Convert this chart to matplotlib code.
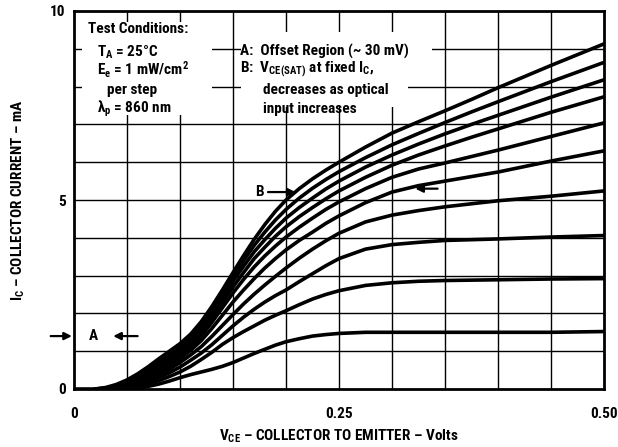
import matplotlib
matplotlib.use('Agg')
import matplotlib.pyplot as plt
from matplotlib import font_manager as fm
from matplotlib.patches import Rectangle

# ---------------- data ----------------
# V_CE sample points (V) shared by all curves
vce = [0.02, 0.03, 0.04, 0.05, 0.06, 0.07, 0.08, 0.09, 0.10, 0.11, 0.12, 0.13, 0.14, 0.15,
       0.16, 0.17, 0.18, 0.19, 0.20, 0.2125, 0.225, 0.2375, 0.25, 0.275, 0.30, 0.325,
       0.35, 0.375, 0.40, 0.45, 0.50]
# Collector current (mA), one curve per 1 mW/cm^2 step (c1 = highest input)
c1 = [0, 0.04, 0.12, 0.24, 0.40, 0.59, 0.80, 1.00, 1.20, 1.45, 1.78, 2.18, 2.62, 3.08, 3.53, 3.96,
      4.35, 4.70, 5.00, 5.30, 5.56, 5.79, 6.00, 6.40, 6.77, 7.07, 7.36, 7.66, 7.97, 8.56, 9.13]
c2 = [0, 0.03, 0.09, 0.19, 0.33, 0.51, 0.70, 0.90, 1.10, 1.35, 1.68, 2.08, 2.52, 2.97, 3.40, 3.80,
      4.15, 4.47, 4.75, 5.05, 5.31, 5.54, 5.75, 6.12, 6.46, 6.76, 7.05, 7.33, 7.60, 8.13, 8.64]
c3 = [0, 0.01, 0.06, 0.15, 0.28, 0.44, 0.63, 0.82, 1.02, 1.27, 1.58, 1.97, 2.40, 2.85, 3.25, 3.63,
      3.95, 4.25, 4.52, 4.80, 5.05, 5.29, 5.50, 5.87, 6.19, 6.48, 6.75, 7.00, 7.24, 7.72, 8.18]
c4 = [0, 0, 0.05, 0.13, 0.24, 0.39, 0.56, 0.75, 0.95, 1.19, 1.50, 1.87, 2.28, 2.70, 3.08, 3.45,
      3.75, 4.04, 4.29, 4.56, 4.80, 5.03, 5.24, 5.60, 5.92, 6.19, 6.43, 6.66, 6.88, 7.32, 7.73]
c5 = [0, 0, 0.04, 0.11, 0.20, 0.34, 0.50, 0.68, 0.88, 1.11, 1.40, 1.76, 2.15, 2.54, 2.90, 3.23,
      3.52, 3.78, 4.02, 4.28, 4.52, 4.75, 4.95, 5.30, 5.60, 5.82, 5.98, 6.15, 6.32, 6.68, 7.04]
c6 = [0, 0, 0.03, 0.09, 0.17, 0.29, 0.43, 0.60, 0.80, 1.02, 1.28, 1.60, 1.95, 2.30, 2.62, 2.92,
      3.20, 3.45, 3.68, 3.93, 4.15, 4.38, 4.58, 4.93, 5.21, 5.38, 5.50, 5.62, 5.74, 6.03, 6.30]
c7 = [0, 0, 0.02, 0.07, 0.14, 0.24, 0.37, 0.52, 0.70, 0.90, 1.12, 1.39, 1.68, 1.97, 2.25, 2.51,
      2.75, 2.98, 3.20, 3.46, 3.70, 3.92, 4.12, 4.42, 4.60, 4.72, 4.82, 4.90, 4.98, 5.10, 5.24]
c8 = [0, 0, 0, 0.04, 0.10, 0.19, 0.30, 0.43, 0.58, 0.76, 0.95, 1.17, 1.42, 1.67, 1.90, 2.11,
      2.30, 2.47, 2.62, 2.84, 3.05, 3.26, 3.45, 3.70, 3.82, 3.88, 3.93, 3.95, 3.97, 4.02, 4.06]
c9 = [0, 0, 0, 0.01, 0.07, 0.14, 0.22, 0.33, 0.45, 0.60, 0.78, 0.97, 1.18, 1.36, 1.52, 1.67,
      1.82, 1.95, 2.07, 2.23, 2.38, 2.50, 2.60, 2.74, 2.81, 2.85, 2.87, 2.88, 2.89, 2.91, 2.92]
c10 = [0, 0, 0, 0, 0.03, 0.07, 0.13, 0.21, 0.30, 0.38, 0.45, 0.52, 0.60, 0.70, 0.82, 0.94,
       1.05, 1.16, 1.25, 1.33, 1.40, 1.44, 1.47, 1.50, 1.50, 1.50, 1.50, 1.50, 1.50, 1.50, 1.52]

x_tick_vals = [0, 0.25, 0.50]
x_tick_labels = ['0', '0.25', '0.50']
y_tick_vals = [0, 5, 10]
y_tick_labels = ['0', '5', '10']
x_grid = [0.05 * k for k in range(1, 10)]
y_grid = list(range(1, 10))

# ---------------- fonts ----------------
names = {f.name for f in fm.fontManager.ttflist}
FONT = 'DejaVu Sans'
for cand in ['Liberation Sans Narrow', 'Roboto Condensed', 'Open Sans Condensed', 'DejaVu Sans Condensed']:
    if cand in names:
        FONT = cand
        break
plt.rcParams['font.family'] = [FONT, 'DejaVu Sans']
plt.rcParams['font.weight'] = 'bold'
plt.rcParams['mathtext.fontset'] = 'custom'
plt.rcParams['mathtext.rm'] = FONT + ':bold'
plt.rcParams['mathtext.it'] = FONT + ':bold'
plt.rcParams['mathtext.bf'] = FONT + ':bold'
plt.rcParams['mathtext.default'] = 'rm'

FS = 11

fig = plt.figure(figsize=(6.18, 4.47), dpi=100)
ax = fig.add_axes([74 / 618, 1 - 389 / 447, 530 / 618, 378 / 447])
ax.set_xlim(0, 0.5)
ax.set_ylim(0, 10)

# grid
for gx in x_grid:
    ax.axvline(gx, color='black', lw=1.0, zorder=1)
for gy in y_grid:
    ax.axhline(gy, color='black', lw=1.0, zorder=1)

# white masks behind the annotation text blocks
masks = [
    (0.008, 7.25, 0.122, 2.47),
    (0.158, 8.15, 0.180, 1.30),
    (0.158, 7.45, 0.157, 0.70),
]
for (mx, my, mw, mh) in masks:
    ax.add_patch(Rectangle((mx, my), mw, mh, facecolor='white', edgecolor='none', zorder=2))

# curves
for cur in [c1, c2, c3, c4, c5, c6, c7, c8, c9, c10]:
    ax.plot(vce, cur, color='black', lw=2.6, solid_capstyle='round', solid_joinstyle='round', zorder=4)
ax.plot([0, 0.05], [0, 0], color='black', lw=2.6, zorder=4)

# spines / ticks
for s in ax.spines.values():
    s.set_linewidth(2.0)
    s.set_zorder(5)
ax.set_xticks(x_tick_vals)
ax.set_xticklabels(x_tick_labels, fontsize=FS, fontweight='bold')
ax.set_yticks(y_tick_vals)
ax.set_yticklabels(y_tick_labels, fontsize=FS, fontweight='bold')
ax.tick_params(axis='both', length=0)
ax.tick_params(axis='x', pad=13)
ax.tick_params(axis='y', pad=6)

ax.set_xlabel('V$_{CE}$ \u2013 COLLECTOR TO EMITTER \u2013 Volts', fontsize=FS, fontweight='bold', labelpad=5)
ax.set_ylabel('I$_C$ \u2013 COLLECTOR CURRENT \u2013 mA', fontsize=FS, fontweight='bold', labelpad=17)

# annotation text block 1
tk = dict(fontsize=FS, fontweight='bold', va='center', ha='left', zorder=6)
ax.text(0.013, 9.52, 'Test Conditions:', **tk)
ax.text(0.022, 8.92, 'T$_A$ = 25\u00b0C', **tk)
ax.text(0.022, 8.45, 'E$_e$ = 1 mW/cm$^2$', **tk)
ax.text(0.031, 7.90, 'per step', **tk)
ax.text(0.022, 7.40, '\u03bb$_p$ = 860 nm', **tk)

# annotation text block 2
ax.text(0.157, 8.92, 'A:  Offset Region (~ 30 mV)', **tk)
ax.text(0.157, 8.45, 'B:  V$_{CE(SAT)}$ at fixed I$_C$,', **tk)
ax.text(0.178, 7.90, 'decreases as optical', **tk)
ax.text(0.178, 7.40, 'input increases', **tk)

# arrows / markers
ap = dict(arrowstyle='-|>', color='black', lw=1.6, mutation_scale=11, shrinkA=0, shrinkB=0)
ax.text(0.175, 5.21, 'B', fontsize=FS, fontweight='bold', ha='center', va='center', zorder=6)
ax.annotate('', xy=(0.209, 5.21), xytext=(0.183, 5.21), arrowprops=ap, zorder=6)
ax.annotate('', xy=(0.322, 5.30), xytext=(0.343, 5.30), arrowprops=ap, zorder=6)
ax.text(0.018, 1.40, 'A', fontsize=FS, fontweight='bold', ha='center', va='center', zorder=6)
ax.annotate('', xy=(0.037, 1.40), xytext=(0.060, 1.40), arrowprops=ap, zorder=6)
ax.annotate('', xy=(-0.002, 1.40), xytext=(-0.022, 1.40), arrowprops=ap, zorder=6,
            annotation_clip=False)

fig.savefig('out.png', dpi=100)
